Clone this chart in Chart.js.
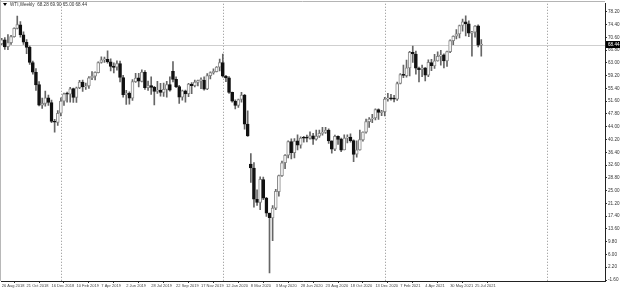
<!DOCTYPE html>
<html>
<head>
<meta charset="utf-8">
<script src="https://cdn.jsdelivr.net/npm/chart.js@4.4.1/dist/chart.umd.min.js"></script>
<style>
  body { margin: 0; background: #fff; }
  canvas { display: block; }
</style>
</head>
<body>
<canvas id="wtiChart" width="620" height="290"></canvas>
<script>
// weekly bars, index 0 = week of 26 Aug 2018
var opens = [68.7, 69.8, 67.8, 69.0, 70.8, 73.2, 74.3, 71.3, 69.1, 67.6, 63.1, 60.2, 56.5, 50.4, 50.9, 52.6, 51.2, 45.6, 45.3,
    48.0, 51.6, 53.8, 53.7, 55.3, 52.7, 55.6, 57.3, 55.8, 56.1, 58.5, 59.0, 60.1, 63.1, 63.9, 64.0, 63.3, 61.9, 61.7, 62.8,
    58.6, 53.5, 54.0, 52.5, 57.4, 58.5, 57.5, 60.2, 55.6, 56.2, 55.7, 54.5, 54.9, 54.2, 55.1, 56.5, 60.5, 58.1, 55.9, 52.8,
    54.7, 53.8, 56.7, 56.2, 57.2, 57.7, 57.8, 55.2, 59.2, 60.1, 60.4, 61.7,
    63.1, 59.0, 58.5, 54.2, 51.6, 50.3, 52.1, 53.4, 44.8, 32.9, 31.7, 22.4, 21.5, 28.3, 22.8, 18.3, 16.9, 19.8, 24.7, 29.4,
    33.3, 35.5, 39.6, 36.3, 39.8, 38.5, 40.7, 40.6, 40.6, 41.3, 40.3, 41.2, 42.0, 42.3, 43.0, 39.8, 37.3, 41.1, 40.3, 37.1,
    40.6, 40.9, 39.9, 35.8, 37.1, 40.1, 42.4, 45.5, 46.3, 46.6, 49.1, 48.2,
    48.5, 52.2, 52.4, 52.3, 52.2, 56.9, 59.5, 59.2, 61.5, 66.1, 65.6, 61.4, 61.0, 61.5, 59.3, 63.1, 62.1, 63.6, 64.9, 65.4,
    63.6, 66.3, 69.6, 70.9, 71.6, 74.1, 75.2, 74.6, 71.8, 72.1, 74.0, 68.3];
var highs = [70.3, 70.5, 71.4, 71.2, 73.4, 76.9, 75.3, 72.2, 69.9, 68.0, 63.5, 61.3, 57.4, 52.5, 54.6, 53.4, 51.9, 46.2, 48.8,
    52.6, 54.0, 54.3, 55.7, 55.5, 55.8, 57.8, 57.9, 57.0, 58.9, 60.4, 60.3, 63.3, 64.8, 64.7, 66.6, 64.2, 63.0, 63.6, 63.5,
    59.3, 54.8, 54.4, 58.0, 59.9, 59.9, 60.9, 60.7, 57.6, 58.8, 56.0, 57.5, 56.9, 57.0, 57.5, 58.8, 63.4, 58.8, 56.3, 54.9,
    54.9, 56.9, 57.1, 57.9, 57.9, 58.5, 58.8, 59.8, 60.3, 61.2, 61.9, 64.1,
    65.6, 59.3, 58.9, 54.3, 52.0, 52.2, 54.2, 53.6, 48.7, 36.0, 33.3, 25.2, 29.1, 29.0, 23.0, 18.3, 20.5, 25.4, 29.6, 33.8,
    35.7, 39.8, 40.4, 40.5, 41.6, 41.0, 41.1, 41.5, 42.5, 42.0, 43.0, 43.0, 43.8, 43.8, 43.4, 39.8, 41.5, 41.3, 40.6, 41.6,
    41.6, 41.9, 40.1, 39.8, 43.0, 42.5, 46.3, 46.7, 47.7, 49.3, 49.3, 48.9,
    52.7, 53.9, 53.6, 53.3, 57.3, 59.8, 62.3, 63.8, 66.4, 68.0, 66.5, 61.7, 62.3, 61.6, 63.9, 64.0, 65.5, 66.3, 66.7, 65.7,
    66.5, 69.8, 71.0, 72.9, 74.2, 76.0, 77.0, 75.5, 72.4, 74.1, 74.3, 69.9];
var lows = [68.4, 67.0, 66.9, 68.5, 70.6, 73.1, 70.6, 68.5, 65.7, 62.5, 59.6, 54.8, 50.2, 49.4, 50.1, 50.3, 45.2, 42.4, 44.4,
    47.2, 50.3, 51.3, 51.3, 51.2, 51.2, 55.3, 54.5, 55.1, 55.4, 58.0, 57.9, 60.0, 62.9, 63.1, 62.9, 60.6, 60.0, 60.8, 57.3,
    52.8, 50.6, 50.7, 51.8, 57.2, 55.8, 57.3, 55.1, 54.8, 53.6, 50.5, 53.9, 53.1, 53.0, 52.8, 54.6, 57.3, 55.6, 50.9, 51.9,
    51.3, 52.9, 53.8, 55.8, 56.1, 55.3, 54.9, 55.0, 58.2, 59.6, 60.3, 60.6,
    58.7, 57.4, 53.9, 51.3, 49.3, 49.7, 51.3, 43.3, 41.1, 27.4, 20.1, 20.6, 19.3, 22.3, 17.3, 0.5, 10.1, 19.3, 23.3, 29.2,
    31.5, 34.7, 34.4, 34.7, 37.1, 37.6, 39.4, 39.5, 40.3, 38.7, 40.0, 40.8, 41.5, 42.0, 39.0, 36.1, 36.9, 38.7, 36.6, 37.1,
    39.2, 39.4, 33.6, 34.9, 37.0, 39.7, 42.1, 43.8, 45.2, 46.0, 46.2, 47.3,
    47.2, 51.6, 51.9, 51.4, 51.8, 56.7, 58.6, 58.7, 59.1, 63.1, 59.6, 57.3, 58.9, 57.6, 58.9, 60.7, 61.3, 63.5, 62.3, 61.5,
    61.9, 66.0, 68.4, 70.1, 70.4, 72.4, 71.0, 70.8, 65.0, 70.6, 67.7, 65.0];
var closes = [69.8, 67.75, 68.99, 70.78, 73.25, 74.34, 71.34, 69.12, 67.59, 63.14, 60.19, 56.46, 50.42, 50.93, 52.61, 51.2, 45.59, 45.33, 47.96,
    51.59, 53.8, 53.69, 55.26, 52.72, 55.59, 57.26, 55.8, 56.07, 58.52, 59.04, 60.14, 63.08, 63.89, 64.0, 63.3, 61.94, 61.66, 62.76, 58.63,
    53.5, 53.99, 52.51, 57.43, 58.47, 57.51, 60.21, 55.63, 56.2, 55.66, 54.5, 54.87, 54.17, 55.1, 56.52, 54.85, 58.09, 55.91, 52.81, 54.7,
    53.78, 56.66, 56.2, 57.24, 57.72, 57.77, 55.17, 59.2, 60.07, 60.44, 61.72, 63.05,
    59.04, 58.54, 54.19, 51.56, 50.32, 52.05, 53.38, 44.76, 41.28, 31.73, 22.43, 21.51, 28.34, 22.76, 18.27, 16.94, 19.78, 24.74, 29.43, 33.25,
    35.49, 39.55, 36.26, 39.75, 38.49, 40.65, 40.55, 40.59, 41.29, 40.27, 41.22, 42.01, 42.34, 42.97, 39.77, 37.33, 41.11, 40.25, 37.05, 40.6,
    40.88, 39.85, 35.79, 37.14, 40.13, 42.42, 45.53, 46.26, 46.57, 49.1, 48.23, 48.52,
    52.24, 52.36, 52.27, 52.2, 56.85, 59.47, 59.24, 61.5, 66.09, 65.61, 61.42, 60.97, 61.45, 59.32, 63.13, 62.14, 63.58, 64.9, 65.37, 63.58,
    66.32, 69.62, 70.91, 71.64, 74.05, 75.16, 74.56, 71.81, 72.07, 73.95, 68.28, 68.44];

// time labels every 8 weeks starting at index 0
var dateLabels = ['26 Aug 2018', '21 Oct 2018', '16 Dec 2018', '10 Feb 2019', '7 Apr 2019', '2 Jun 2019', '28 Jul 2019',
    '22 Sep 2019', '17 Nov 2019', '12 Jan 2020', '8 Mar 2020', '3 May 2020', '28 Jun 2020', '23 Aug 2020', '18 Oct 2020',
    '13 Dec 2020', '7 Feb 2021', '4 Apr 2021', '30 May 2021', '25 Jul 2021'];
var labelStep = 8;
var priceTicks = [78.2, 74.4, 70.6, 66.8, 63.0, 59.2, 55.4, 51.6, 47.8, 44.0, 40.2, 36.4, 32.6, 28.8, 25.0, 21.2,
    17.4, 13.6, 9.8, 6.0, 2.2, -1.6];
// first weekly bar of each year (period separators)
var yearStarts = [19, 71, 123, 175];
var symbolTitle = 'WTI,Weekly  68.28 69.90 65.00 68.44';

var bodies = [];
var wicks = [];
var bodyFill = [];
var bodyLine = [];
for (var i = 0; i < closes.length; i++) {
    bodies.push({x: i, y: [opens[i], closes[i]]});
    wicks.push({x: i, y: [lows[i], highs[i]]});
    var up = closes[i] >= opens[i];
    bodyFill.push(up ? '#f8f8f8' : '#111');
    bodyLine.push(up ? '#8a8a8a' : '#111');
}

var tinyFont = {family: 'Liberation Sans', size: 4.6};
var dateFont = {family: 'Liberation Sans', size: 4};

var mtDecor = {
    id: 'mtDecor',
    beforeDatasetsDraw: function(chart) {
        var ctx = chart.ctx;
        var area = chart.chartArea;
        var xs = chart.scales.x;
        var ys = chart.scales.y;
        ctx.save();
        // period separators
        ctx.strokeStyle = '#8c8c8c';
        ctx.lineWidth = 1;
        ctx.setLineDash([1, 2]);
        yearStarts.forEach(function(idx) {
            var px = Math.round(xs.getPixelForValue(idx)) + 0.5;
            ctx.beginPath();
            ctx.moveTo(px, area.top);
            ctx.lineTo(px, area.bottom);
            ctx.stroke();
        });
        ctx.setLineDash([]);
        // bid line
        var py = Math.round(ys.getPixelForValue(closes[closes.length - 1])) + 0.5;
        ctx.strokeStyle = '#cfcfcf';
        ctx.beginPath();
        ctx.moveTo(area.left, py);
        ctx.lineTo(area.right, py);
        ctx.stroke();
        ctx.restore();
    },
    afterDraw: function(chart) {
        var ctx = chart.ctx;
        var area = chart.chartArea;
        var ys = chart.scales.y;
        ctx.save();
        // window frame
        ctx.strokeStyle = '#b4b4b4';
        ctx.beginPath();
        ctx.moveTo(0, 1.5);
        ctx.lineTo(area.right, 1.5);
        ctx.stroke();
        ctx.fillStyle = '#b8b8b8';
        ctx.fillRect(0, 0, 1, area.bottom);
        // current price box
        var last = closes[closes.length - 1];
        var py = ys.getPixelForValue(last);
        ctx.fillStyle = '#000';
        ctx.fillRect(area.right + 1, py - 3.5, 14, 7);
        ctx.fillStyle = '#fff';
        ctx.font = '4.6px "Liberation Sans"';
        ctx.textBaseline = 'middle';
        ctx.textAlign = 'left';
        ctx.fillText(last.toFixed(2), area.right + 3, py);
        // symbol title
        ctx.fillStyle = '#000';
        ctx.beginPath();
        ctx.moveTo(3, 3);
        ctx.lineTo(7, 3);
        ctx.lineTo(5, 6);
        ctx.closePath();
        ctx.fill();
        ctx.fillStyle = '#333';
        ctx.fillText(symbolTitle, 10, 4.8);
        ctx.restore();
    }
};

var ctx = document.getElementById('wtiChart').getContext('2d');
var chart = new Chart(ctx, {
    type: 'bar',
    data: {
        datasets: [{
            data: bodies,
            backgroundColor: bodyFill,
            borderColor: bodyLine,
            borderWidth: 1,
            borderSkipped: false,
            barThickness: 3,
            minBarLength: 1,
            grouped: false,
            order: 0
        }, {
            data: wicks,
            backgroundColor: '#666',
            borderWidth: 0,
            barThickness: 1,
            grouped: false,
            order: 1
        }]
    },
    options: {
        responsive: false,
        animation: false,
        layout: {
            padding: {left: 1, top: 2, right: 0, bottom: 0}
        },
        plugins: {
            legend: {display: false},
            tooltip: {enabled: false}
        },
        scales: {
            x: {
                type: 'linear',
                offset: false,
                min: -0.225,
                max: 193.73,
                grid: {drawOnChartArea: false, tickLength: 2, color: '#333'},
                border: {display: true, color: '#222'},
                afterBuildTicks: function(scale) {
                    scale.ticks = dateLabels.map(function(lbl, k) { return {value: k * labelStep}; });
                },
                afterFit: function(scale) { scale.height = 9; },
                ticks: {
                    autoSkip: false,
                    maxRotation: 0,
                    align: 'start',
                    padding: 0,
                    color: '#444',
                    font: dateFont,
                    callback: function(v) { return dateLabels[Math.round(v / labelStep)] || ''; }
                }
            },
            y: {
                position: 'right',
                min: -1.8955,
                max: 80.564,
                grid: {drawOnChartArea: false, tickLength: 2, color: '#333'},
                border: {display: true, color: '#222'},
                afterBuildTicks: function(scale) {
                    scale.ticks = priceTicks.map(function(v) { return {value: v}; });
                },
                afterFit: function(scale) { scale.width = 15; },
                ticks: {
                    padding: 1,
                    color: '#333',
                    font: tinyFont,
                    callback: function(v) { return v.toFixed(2); }
                }
            }
        }
    },
    plugins: [mtDecor]
});
</script>
</body>
</html>
